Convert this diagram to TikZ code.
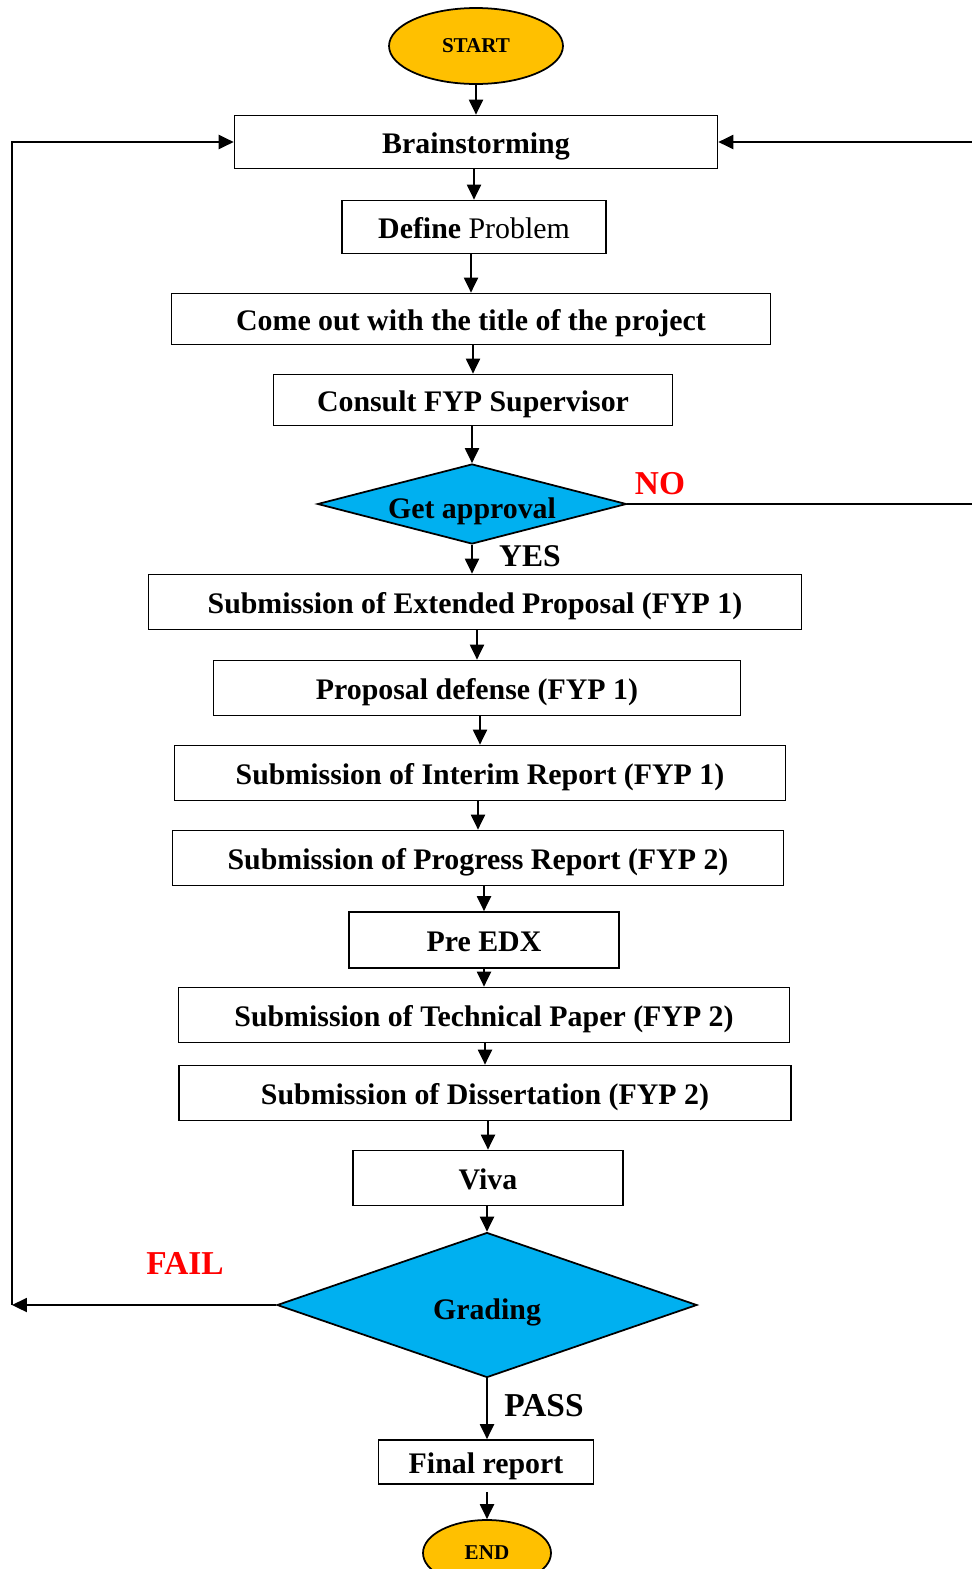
\documentclass[tikz,border=0pt]{standalone}
\usepackage{fontspec}
\setmainfont{Liberation Serif}
\usetikzlibrary{shapes.geometric,arrows.meta}
\definecolor{termyellow}{HTML}{FFC000}
\definecolor{decblue}{HTML}{00B0F0}
\begin{document}
\begin{tikzpicture}[x=0.02cm,y=-0.02cm,
    box/.style={draw,line width=1pt,inner sep=0pt,minimum height=1.1cm,
        text height=13pt,text depth=0pt,
        font=\fontsize{17}{20}\selectfont\bfseries},
    term/.style={ellipse,draw,line width=1pt,fill=termyellow,inner sep=0pt,
        font=\fontsize{12}{14}\selectfont\bfseries},
    decide/.style={diamond,draw,line width=1pt,fill=decblue,inner sep=0pt,
        text height=17pt,text depth=0pt,
        font=\fontsize{17}{20}\selectfont\bfseries},
    answer/.style={font=\fontsize{19}{22}\selectfont\bfseries},
    arr/.style={-{Triangle[length=8.5pt,width=8pt]},line width=1pt}]

    \useasboundingbox (0,0) rectangle (971,1569);

    % the steps

    \node[term,minimum width=3.48cm,minimum height=1.52cm] (start) at (476,46) {START};
    \node[box,minimum width=9.66cm,minimum height=1.06cm] (brain) at (476,142) {Brainstorming};
    \node[box,minimum width=5.28cm,minimum height=1.06cm] (define) at (474,227)
        {Define \mdseries Problem};
    \node[box,minimum width=11.98cm,minimum height=1.02cm] (title) at (471,319)
        {Come out with the title of the project};
    \node[box,minimum width=7.98cm,minimum height=1.02cm] (consult) at (473,400)
        {Consult FYP Supervisor};
    \node[decide,minimum width=6.18cm,minimum height=1.6cm,aspect=3.86] (approve)
        at (472,504) {Get approval};
    \node[box,minimum width=13.06cm] (extprop) at (475,602)
        {Submission of Extended Proposal (FYP 1)};
    \node[box,minimum width=10.54cm] (defense) at (477,688) {Proposal defense (FYP 1)};
    \node[box,minimum width=12.22cm] (interim) at (480,773)
        {Submission of Interim Report (FYP 1)};
    \node[box,minimum width=12.22cm] (progress) at (478,858)
        {Submission of Progress Report (FYP 2)};
    \node[box,minimum width=5.4cm,minimum height=1.12cm] (preedx) at (484,940) {Pre EDX};
    \node[box,minimum width=12.22cm] (paper) at (484,1015)
        {Submission of Technical Paper (FYP 2)};
    \node[box,minimum width=12.24cm] (diss) at (485,1093)
        {Submission of Dissertation (FYP 2)};
    \node[box,minimum width=5.4cm] (viva) at (488,1178) {Viva};
    \node[decide,minimum width=8.4cm,minimum height=2.9cm,aspect=2.9] (grade)
        at (487,1305) {Grading};
    \node[box,minimum width=4.3cm,minimum height=.88cm] (final) at (486,1462) {Final report};
    \node[term,minimum width=2.56cm,minimum height=1.32cm] (finish) at (487,1553) {END};

    % the answers

    \node[answer,text=red] (no) at (660,484) {NO};
    \node[answer,font=\fontsize{18}{21}\selectfont\bfseries] (yes) at (530,556) {YES};
    \node[answer,text=red] (fail) at (185,1263) {FAIL};
    \node[answer] (pass) at (544,1406) {PASS};

    \coordinate (noturn) at (973,504);
    \coordinate (failturn) at (12,1305);

    % the arrows

    \draw[arr] (start) -- (brain);
    \draw[arr] (define.north |- brain.south) -- (define.north);
    \draw[arr] (title.north |- define.south) -- (title.north);
    \draw[arr] (consult.north |- title.south) -- (consult.north);
    \draw[arr] (approve.north |- consult.south) -- (approve.north);
    \draw[arr] (approve.south) -- (approve.south |- extprop.north);
    \draw[arr] (defense.north |- extprop.south) -- (defense.north);
    \draw[arr] (interim.north |- defense.south) -- (interim.north);
    \draw[arr] (progress.north |- interim.south) -- (progress.north);
    \draw[arr] (preedx.north |- progress.south) -- (preedx.north);
    \draw[arr] (paper.north |- preedx.south) -- (paper.north);
    \draw[arr] (diss.north |- paper.south) -- (diss.north);
    \draw[arr] (viva.north |- diss.south) -- (viva.north);
    \draw[arr] (grade.north |- viva.south) -- (grade.north);
    \draw[arr] (grade.south) -- (grade.south |- final.north);
    \draw[arr,shorten <=4pt] (finish.north |- final.south) -- (finish.north);
    \draw[arr] (approve.east) -- (noturn) |- (brain.east);
    \draw[arr] (grade.west) -- (failturn);
    \draw[arr] (failturn) |- (brain.west);
\end{tikzpicture}
\end{document}
